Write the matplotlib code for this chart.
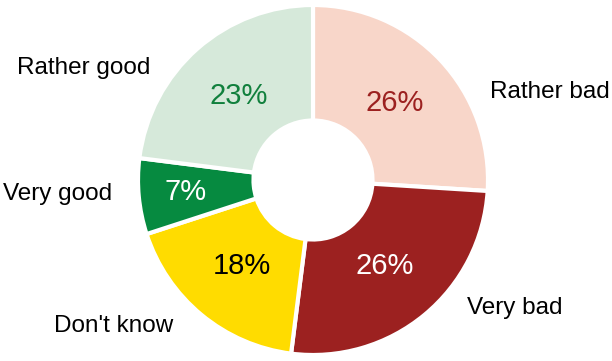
import numpy as np
import matplotlib.pyplot as plt

plt.rcParams['font.family'] = ['Liberation Sans', 'DejaVu Sans']

labels = ["Rather bad", "Very bad", "Don't know", "Very good", "Rather good"]
values = [26, 26, 18, 7, 23]
colors = ["#F8D6C9", "#9C2120", "#FFDC00", "#068A40", "#D6E9DA"]
pct_colors = ["#9C2120", "white", "black", "white", "#11803D"]

# outside label positions (pixels, center of text)
label_xy = [(550, 92), (515, 308), (114, 326), (58, 194), (84, 68)]

W, H = 612, 361
fig = plt.figure(figsize=(W / 100, H / 100), dpi=100)
cx, cy, R = 313, 180, 175
ax = fig.add_axes([(cx - R) / W, (H - cy - R) / H, 2 * R / W, 2 * R / H])

wedges, texts, autotexts = ax.pie(
    values, colors=colors, startangle=90, counterclock=False,
    autopct='%d%%', pctdistance=0.64,
    wedgeprops=dict(width=0.66, edgecolor='white', linewidth=3),
    textprops=dict(fontsize=21))
ax.set_xlim(-1, 1)
ax.set_ylim(-1, 1)
ax.set_aspect('equal')

for t, c in zip(autotexts, pct_colors):
    t.set_color(c)

# the small slice gets its number a bit further out
w = wedges[3]
ang = np.deg2rad((w.theta1 + w.theta2) / 2)
autotexts[3].set_position((0.73 * np.cos(ang), 0.73 * np.sin(ang)))

for lab, (x, y) in zip(labels, label_xy):
    fig.text(x / W, 1 - y / H, lab, ha='center', va='center', fontsize=17.5)

fig.savefig("out.png", dpi=100)
